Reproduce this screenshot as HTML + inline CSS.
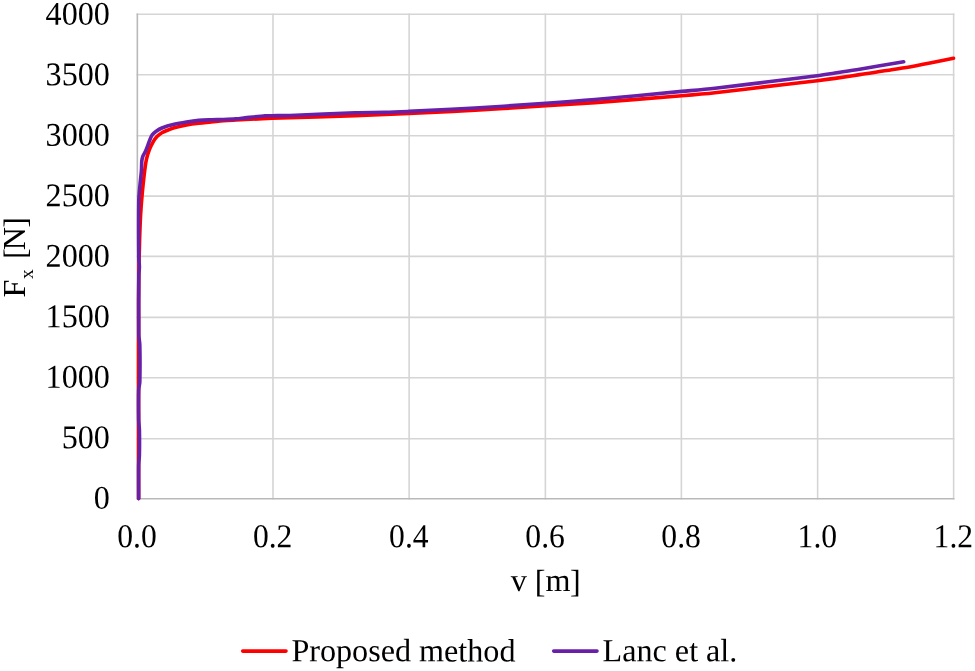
<!DOCTYPE html>
<html lang="en">
<head>
<meta charset="utf-8">
<title>Fx vs v</title>
<style>
html,body{margin:0;padding:0;background:#fff;}
body{width:975px;height:671px;overflow:hidden;}
svg{display:block;}
text{font-family:"Liberation Serif",serif;font-size:32.15px;fill:#000;}
.grid line{stroke:#d5d5d5;stroke-width:1.6;stroke-linecap:square;}
.axis line{stroke:#b9b9b9;stroke-width:1.6;stroke-linecap:square;}
.curve{fill:none;stroke-width:3.6;stroke-linecap:round;stroke-linejoin:round;}
</style>
</head>
<body>
<svg width="975" height="671" viewBox="0 0 975 671">
<rect width="975" height="671" fill="#fff"/>
<g class="grid">
<line x1="137.35" y1="438.73" x2="953.64" y2="438.73"/>
<line x1="137.35" y1="377.80" x2="953.64" y2="377.80"/>
<line x1="137.35" y1="317.35" x2="953.64" y2="317.35"/>
<line x1="137.35" y1="256.38" x2="953.64" y2="256.38"/>
<line x1="137.35" y1="196.10" x2="953.64" y2="196.10"/>
<line x1="137.35" y1="135.76" x2="953.64" y2="135.76"/>
<line x1="137.35" y1="74.80" x2="953.64" y2="74.80"/>
<line x1="137.35" y1="14.31" x2="953.64" y2="14.31"/>
<line x1="272.97" y1="14.31" x2="272.97" y2="498.71"/>
<line x1="409.15" y1="14.31" x2="409.15" y2="498.71"/>
<line x1="545.38" y1="14.31" x2="545.38" y2="498.71"/>
<line x1="681.38" y1="14.31" x2="681.38" y2="498.71"/>
<line x1="817.64" y1="14.31" x2="817.64" y2="498.71"/>
<line x1="953.64" y1="14.31" x2="953.64" y2="498.71"/>
</g>
<g class="axis">
<line x1="137.35" y1="14.31" x2="137.35" y2="498.71"/>
<line x1="137.35" y1="498.71" x2="953.64" y2="498.71"/>
</g>
<path class="curve" stroke="#ff0000" d="M138.60,498.60 C138.60,465.50 138.55,338.10 138.60,300.00 C138.61,290.00 138.73,280.00 138.90,270.00 C139.07,260.00 139.32,249.17 139.60,240.00 C139.86,231.66 140.20,222.33 140.60,215.00 C140.95,208.66 141.50,201.83 142.00,196.00 C142.46,190.66 143.12,184.52 143.60,180.00 C144.00,176.30 144.42,172.38 144.90,168.90 C145.35,165.62 145.73,162.32 146.50,159.10 C147.28,155.82 148.47,152.12 149.60,149.20 C150.62,146.57 152.07,143.72 153.30,141.60 C154.36,139.79 155.57,137.98 157.00,136.50 C158.43,135.02 160.12,133.74 161.90,132.70 C163.75,131.62 166.05,130.82 168.10,130.00 C170.11,129.20 172.12,128.38 174.20,127.80 C177.27,126.95 182.40,125.68 186.50,124.90 C190.57,124.12 194.68,123.58 198.80,123.10 C202.92,122.62 207.08,122.38 211.20,122.00 C215.30,121.62 219.40,121.13 223.50,120.80 C227.60,120.47 232.22,120.22 235.80,120.00 C238.87,119.81 241.93,119.64 245.00,119.50 C251.03,119.22 263.00,118.62 272.00,118.30 C290.33,117.65 332.17,116.40 355.00,115.60 C373.00,114.97 391.00,114.29 409.00,113.50 C429.00,112.62 453.01,111.54 475.00,110.30 C497.80,109.02 525.80,107.08 545.80,105.80 C562.20,104.75 578.61,103.82 595.00,102.60 C617.67,100.92 661.80,97.35 681.80,95.70 C692.87,94.79 703.95,93.88 715.00,92.70 C728.73,91.23 747.80,88.83 764.20,86.90 C781.23,84.90 805.40,82.12 817.20,80.70 C823.14,79.99 829.08,79.25 835.00,78.40 C842.07,77.38 851.40,75.85 859.60,74.60 C871.18,72.83 892.77,69.75 904.50,67.80 C913.04,66.38 921.83,64.50 930.00,62.90 C937.84,61.36 949.58,58.98 953.50,58.20"/>
<path class="curve" stroke="#6820a8" d="M138.70,498.60 C138.70,493.00 138.58,472.27 138.70,465.00 C138.75,461.66 139.33,458.34 139.40,455.00 C139.52,449.17 139.52,435.83 139.40,430.00 C139.33,426.66 138.76,423.34 138.70,420.00 C138.58,413.33 138.52,396.33 138.70,390.00 C138.78,387.31 139.73,384.69 139.80,382.00 C139.98,374.50 139.97,352.83 139.80,345.00 C139.73,341.65 138.85,338.35 138.80,335.00 C138.63,323.33 138.70,286.33 138.80,275.00 C138.82,272.33 139.40,269.67 139.40,267.00 C139.40,264.17 138.83,261.01 138.80,258.00 C138.70,246.83 138.60,212.17 138.80,200.00 C138.88,194.98 139.57,189.83 140.00,185.00 C140.42,180.33 141.10,175.00 141.40,171.00 C141.65,167.67 141.57,163.42 141.80,161.00 C141.95,159.47 142.25,157.94 142.80,156.50 C143.43,154.83 144.77,152.88 145.60,151.00 C146.55,148.83 147.72,145.55 148.50,143.50 C149.11,141.90 149.68,140.13 150.30,138.70 C150.86,137.40 151.32,136.01 152.20,134.90 C153.18,133.67 154.74,132.34 156.20,131.30 C157.82,130.15 159.85,128.80 161.90,128.00 C164.90,126.83 170.10,125.30 174.20,124.30 C178.25,123.31 182.40,122.65 186.50,122.00 C190.58,121.35 194.68,120.77 198.80,120.40 C202.92,120.03 207.08,119.95 211.20,119.80 C215.30,119.65 219.40,119.65 223.50,119.50 C227.60,119.35 232.22,119.17 235.80,118.90 C238.88,118.67 241.93,118.23 245.00,117.90 C249.87,117.38 260.50,116.17 265.00,115.80 C267.33,115.61 269.67,115.73 272.00,115.70 C276.17,115.65 284.00,115.71 290.00,115.50 C303.83,115.02 339.17,113.32 355.00,112.80 C365.00,112.47 376.00,112.63 385.00,112.40 C393.00,112.19 401.00,111.79 409.00,111.40 C424.00,110.67 453.01,109.30 475.00,108.00 C497.80,106.65 525.80,104.72 545.80,103.30 C562.21,102.14 578.61,100.93 595.00,99.50 C617.67,97.52 661.80,93.28 681.80,91.40 C692.87,90.36 703.95,89.42 715.00,88.20 C728.73,86.68 747.80,84.29 764.20,82.30 C781.23,80.23 805.40,77.35 817.20,75.80 C823.16,75.02 829.07,73.92 835.00,73.00 C842.07,71.90 851.41,70.55 859.60,69.20 C871.05,67.32 896.35,62.95 903.70,61.70"/>
<g class="ylab">
<text transform="translate(109.9,508.75) rotate(0.03) scale(1,1.031)" text-anchor="end">0</text>
<text transform="translate(109.9,448.26) rotate(0.03) scale(1,1.031)" text-anchor="end">500</text>
<text transform="translate(109.9,387.77) rotate(0.03) scale(1,1.031)" text-anchor="end">1000</text>
<text transform="translate(109.9,327.28) rotate(0.03) scale(1,1.031)" text-anchor="end">1500</text>
<text transform="translate(109.9,266.79) rotate(0.03) scale(1,1.031)" text-anchor="end">2000</text>
<text transform="translate(109.9,206.30) rotate(0.03) scale(1,1.031)" text-anchor="end">2500</text>
<text transform="translate(109.9,145.81) rotate(0.03) scale(1,1.031)" text-anchor="end">3000</text>
<text transform="translate(109.9,85.32) rotate(0.03) scale(1,1.031)" text-anchor="end">3500</text>
<text transform="translate(109.9,24.83) rotate(0.03) scale(1,1.031)" text-anchor="end">4000</text>
</g>
<g class="xlab">
<text transform="translate(137.05,547.3) rotate(0.03) scale(1,1.057)" style="font-size:31.6px" text-anchor="middle">0.0</text>
<text transform="translate(272.67,547.3) rotate(0.03) scale(1,1.057)" style="font-size:31.6px" text-anchor="middle">0.2</text>
<text transform="translate(408.85,547.3) rotate(0.03) scale(1,1.057)" style="font-size:31.6px" text-anchor="middle">0.4</text>
<text transform="translate(545.08,547.3) rotate(0.03) scale(1,1.057)" style="font-size:31.6px" text-anchor="middle">0.6</text>
<text transform="translate(681.08,547.3) rotate(0.03) scale(1,1.057)" style="font-size:31.6px" text-anchor="middle">0.8</text>
<text transform="translate(817.34,547.3) rotate(0.03) scale(1,1.057)" style="font-size:31.6px" text-anchor="middle">1.0</text>
<text transform="translate(953.34,547.3) rotate(0.03) scale(1,1.057)" style="font-size:31.6px" text-anchor="middle">1.2</text>
</g>
<text transform="translate(545.7,591) rotate(0.03) scale(1,1.004)" text-anchor="middle">v <tspan dy="1.3">[</tspan><tspan dy="-1.3">m</tspan><tspan dy="1.3" dx="-0.5">]</tspan></text>
<text transform="translate(25.0,257.3) rotate(-90)" text-anchor="middle">F<tspan style="font-size:19.5px" dy="8" dx="0.5">x</tspan><tspan dy="-6.7" dx="2.2"> [</tspan><tspan dy="-1.3" dx="-1.8">N</tspan><tspan dy="1.3" dx="-0.9">]</tspan></text>
<line x1="242.7" y1="651.1" x2="286" y2="651.1" stroke="#ff0000" stroke-width="3.6" stroke-linecap="round"/>
<text transform="translate(291.4,661.3) rotate(0.03) scale(1,1.004)">Proposed method</text>
<line x1="553.7" y1="651.1" x2="597" y2="651.1" stroke="#6820a8" stroke-width="3.6" stroke-linecap="round"/>
<text transform="translate(602.6,661.3) rotate(0.03) scale(1,1.004)">Lanc et al.</text>
</svg>
</body>
</html>
